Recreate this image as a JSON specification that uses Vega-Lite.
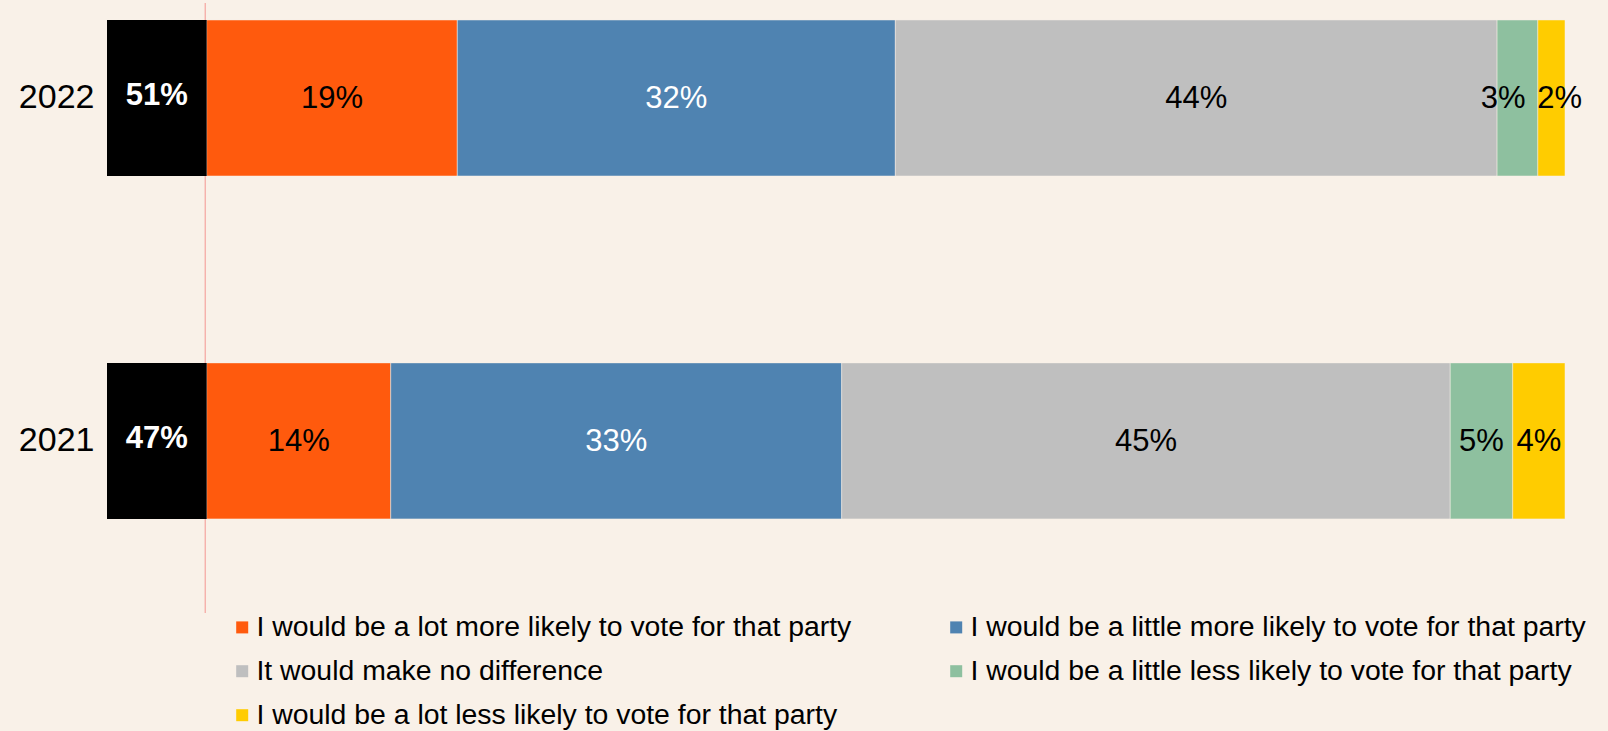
{
  "$schema": "https://vega.github.io/schema/vega-lite/v6.json",
  "width": 1458,
  "height": 610,
  "autosize": {"type": "none"},
  "padding": {"left": 107, "top": 3, "right": 43, "bottom": 118},
  "background": "#F9F1E8",
  "config": {
    "view": {"stroke": null},
    "font": "Liberation Sans, sans-serif"
  },
  "datasets": {
    "resp": [
      {"year": "2022", "resp": "I would be a lot more likely to vote for that party", "value": 18.45, "label": "19%"},
      {"year": "2022", "resp": "I would be a little more likely to vote for that party", "value": 32.25, "label": "32%"},
      {"year": "2022", "resp": "It would make no difference", "value": 44.3, "label": "44%"},
      {"year": "2022", "resp": "I would be a little less likely to vote for that party", "value": 3.0, "label": "3%"},
      {"year": "2022", "resp": "I would be a lot less likely to vote for that party", "value": 2.0, "label": "2%"},
      {"year": "2021", "resp": "I would be a lot more likely to vote for that party", "value": 13.55, "label": "14%"},
      {"year": "2021", "resp": "I would be a little more likely to vote for that party", "value": 33.2, "label": "33%"},
      {"year": "2021", "resp": "It would make no difference", "value": 44.8, "label": "45%"},
      {"year": "2021", "resp": "I would be a little less likely to vote for that party", "value": 4.6, "label": "5%"},
      {"year": "2021", "resp": "I would be a lot less likely to vote for that party", "value": 3.85, "label": "4%"}
    ],
    "net": [
      {"year": "2022", "net": "51%"},
      {"year": "2021", "net": "47%"}
    ]
  },
  "encoding": {
    "y": {
      "field": "year",
      "type": "nominal",
      "sort": ["2022", "2021"],
      "scale": {"paddingInner": 0.545, "paddingOuter": 0.162, "align": 0.153},
      "axis": {
        "title": null,
        "ticks": false,
        "domain": false,
        "labelFontSize": 34,
        "labelColor": "#000000",
        "labelPadding": 13,
        "labelFont": "Liberation Sans, sans-serif"
      }
    }
  },
  "layer": [
    {
      "data": {"name": "net"},
      "mark": {"type": "rule", "color": "#F5B2AC", "strokeWidth": 1.2},
      "encoding": {
        "x": {"datum": -0.1, "type": "quantitative", "scale": {"domain": [-7.34, 100], "nice": false, "zero": false}, "axis": null},
        "y": null
      }
    },
    {
      "data": {"name": "resp"},
      "transform": [
        {"calculate": "indexof(['I would be a lot more likely to vote for that party','I would be a little more likely to vote for that party','It would make no difference','I would be a little less likely to vote for that party','I would be a lot less likely to vote for that party'], datum.resp)", "as": "rank"}
      ],
      "mark": {"type": "bar", "stroke": "#F9F1E8", "strokeWidth": 0.5},
      "encoding": {
        "x": {"field": "value", "type": "quantitative", "stack": "zero", "axis": null},
        "order": {"field": "rank"},
        "color": {
          "field": "resp",
          "type": "nominal",
          "scale": {
            "domain": [
              "I would be a lot more likely to vote for that party",
              "I would be a little more likely to vote for that party",
              "It would make no difference",
              "I would be a little less likely to vote for that party",
              "I would be a lot less likely to vote for that party"
            ],
            "range": ["#FF5A0D", "#4F83B1", "#BFBFBF", "#8EC09F", "#FFCC00"]
          },
          "legend": {
            "title": null,
            "orient": "none",
            "direction": "horizontal",
            "legendX": 121,
            "legendY": 610,
            "columns": 2,
            "columnPadding": 90,
            "rowPadding": 15,
            "symbolType": "square",
            "symbolSize": 144,
            "symbolStrokeWidth": 0,
            "labelOffset": 0,
            "labelFontSize": 28.4,
            "labelColor": "#000000",
            "labelLimit": 800,
            "labelFont": "Liberation Sans, sans-serif"
          }
        }
      }
    },
    {
      "data": {"name": "net"},
      "mark": {"type": "bar", "color": "#000000"},
      "encoding": {
        "x": {"datum": -7.34, "type": "quantitative"},
        "x2": {"datum": 0}
      }
    },
    {
      "data": {"name": "resp"},
      "transform": [
        {"calculate": "indexof(['I would be a lot more likely to vote for that party','I would be a little more likely to vote for that party','It would make no difference','I would be a little less likely to vote for that party','I would be a lot less likely to vote for that party'], datum.resp)", "as": "rank"},
        {"stack": "value", "groupby": ["year"], "sort": [{"field": "rank", "order": "ascending"}], "as": ["x0", "x1"]},
        {"calculate": "(datum.x0 + datum.x1) / 2 + (datum.year == '2022' && datum.rank == 3 ? -1.05 : 0) + (datum.year == '2022' && datum.rank == 4 ? 0.6 : 0)", "as": "mid"}
      ],
      "mark": {"type": "text", "fontSize": 31, "baseline": "middle", "align": "center", "dy": 1},
      "encoding": {
        "x": {"field": "mid", "type": "quantitative"},
        "text": {"field": "label"},
        "color": {
          "condition": {"test": "datum.rank == 1", "value": "#FFFFFF"},
          "value": "#000000"
        }
      }
    },
    {
      "data": {"name": "net"},
      "mark": {"type": "text", "fontSize": 31, "fontWeight": "bold", "color": "#FFFFFF", "baseline": "middle", "align": "center", "dy": -2},
      "encoding": {
        "x": {"datum": -3.67, "type": "quantitative"},
        "text": {"field": "net"}
      }
    }
  ]
}
